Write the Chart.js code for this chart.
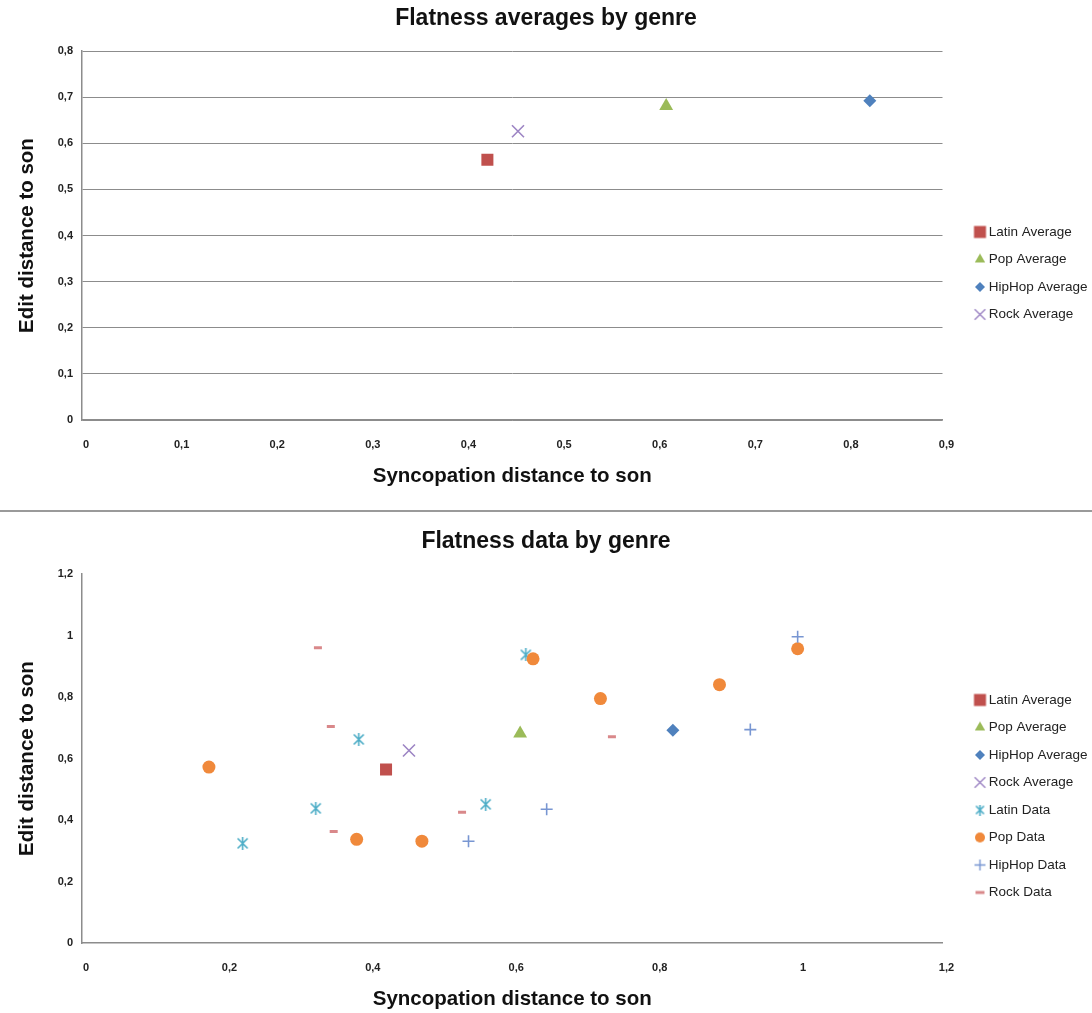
<!DOCTYPE html>
<html>
<head>
<meta charset="utf-8">
<script src="https://cdn.jsdelivr.net/npm/chart.js@4.4.1/dist/chart.umd.min.js"></script>
<style>
    html, body { margin: 0; padding: 0; background: #fff; }
    body { width: 1092px; height: 1013px; position: relative; overflow: hidden; }
    .chart-box { position: absolute; left: 0; width: 1092px; height: 489px; }
    #top-box { top: 0; }
    #bottom-box { top: 523px; }
    #divider { position: absolute; left: 0; top: 510px; width: 1092px; height: 2px; background: #9a9a9a; }
</style>
</head>
<body>
<div class="chart-box" id="top-box"><canvas id="avgChart"></canvas></div>
<div id="divider"></div>
<div class="chart-box" id="bottom-box"><canvas id="dataChart"></canvas></div>
<script>
// Genre averages (x = syncopation distance, y = edit distance)
const avgLabels = ["Latin Average", "Pop Average", "HipHop Average", "Rock Average"];
const avgX = [0.424, 0.611, 0.824, 0.456];
const avgY = [0.564, 0.681, 0.692, 0.626];

// Per-song data by genre
const latinX = [0.224, 0.326, 0.386, 0.563, 0.619];
const latinY = [0.324, 0.438, 0.662, 0.451, 0.937];
const popX = [0.177, 0.383, 0.474, 0.629, 0.723, 0.889, 0.998];
const popY = [0.572, 0.337, 0.331, 0.924, 0.795, 0.840, 0.957];
const hiphopX = [0.539, 0.648, 0.932, 0.998];
const hiphopY = [0.331, 0.435, 0.694, 0.996];
const rockX = [0.329, 0.347, 0.351, 0.530, 0.739];
const rockY = [0.960, 0.704, 0.363, 0.425, 0.671];

const FONT = '"Liberation Sans", Arial, sans-serif';

// Excel style asterisk marker (X with a vertical bar)
function makeAsterisk(color, size) {
    const c = document.createElement("canvas");
    c.width = size;
    c.height = size;
    const ctx = c.getContext("2d");
    ctx.strokeStyle = color;
    ctx.lineWidth = 1.6;
    const m = 1.5, s = size - 1.5;
    ctx.beginPath();
    ctx.moveTo(m, m); ctx.lineTo(s, s);
    ctx.moveTo(s, m); ctx.lineTo(m, s);
    ctx.moveTo(size / 2, 0); ctx.lineTo(size / 2, size);
    ctx.stroke();
    return c;
}

// small marker image for the legend, drawn with Chart.js' own point renderer
function makeMarker(style, radius, color, lineWidth) {
    const size = Math.ceil(radius * 2 + lineWidth + 2);
    const c = document.createElement("canvas");
    c.width = size;
    c.height = size;
    const ctx = c.getContext("2d");
    ctx.fillStyle = color;
    ctx.strokeStyle = color;
    ctx.lineWidth = lineWidth;
    Chart.helpers.drawPoint(ctx, { pointStyle: style, radius: radius, rotation: 0, borderWidth: lineWidth }, size / 2, size / 2);
    return c;
}

function zip(xs, ys) {
    return xs.map((x, i) => ({ x: x, y: ys[i] }));
}

function fmt(v) {
    return String(Number(v.toFixed(2))).replace(".", ",");
}

function avgDatasets() {
    return [
        { label: avgLabels[0], data: [{ x: avgX[0], y: avgY[0] }], pointStyle: "rect", pointRadius: 8.5,
          backgroundColor: "#C0504D", borderColor: "#C0504D", borderWidth: 0,
          legendMarker: makeMarker("rect", 8.5, "#C0504D", 0) },
        { label: avgLabels[1], data: [{ x: avgX[1], y: avgY[1] }], pointStyle: "triangle", pointRadius: 8,
          backgroundColor: "#9BBB59", borderColor: "#9BBB59", borderWidth: 0,
          legendMarker: makeMarker("triangle", 6, "#9BBB59", 0) },
        { label: avgLabels[2], data: [{ x: avgX[2], y: avgY[2] }], pointStyle: "rectRot", pointRadius: 6.5,
          backgroundColor: "#4F81BD", borderColor: "#4F81BD", borderWidth: 0,
          legendMarker: makeMarker("rectRot", 5, "#4F81BD", 0) },
        { label: avgLabels[3], data: [{ x: avgX[3], y: avgY[3] }], pointStyle: "crossRot", pointRadius: 8.5,
          backgroundColor: "#9D85C4", borderColor: "#9D85C4", borderWidth: 1.6,
          legendMarker: makeMarker("crossRot", 7.5, "#9D85C4", 1.4) }
    ];
}

function dataDatasets() {
    const star = makeAsterisk("#4BACC6", 13);
    return [
        { label: "Latin Data", data: zip(latinX, latinY), pointStyle: star,
          backgroundColor: "#4BACC6", borderColor: "#4BACC6", borderWidth: 1.6,
          legendMarker: makeAsterisk("#4BACC6", 11) },
        { label: "Pop Data", data: zip(popX, popY), pointStyle: "circle", pointRadius: 6.5,
          backgroundColor: "#F0893B", borderColor: "#F0893B", borderWidth: 0,
          legendMarker: makeMarker("circle", 5, "#F0893B", 0) },
        { label: "HipHop Data", data: zip(hiphopX, hiphopY), pointStyle: "cross", pointRadius: 6,
          backgroundColor: "#7896D2", borderColor: "#7896D2", borderWidth: 1.6,
          legendMarker: makeMarker("cross", 5.5, "#7896D2", 1.4) },
        { label: "Rock Data", data: zip(rockX, rockY), pointStyle: "line", pointRadius: 4,
          backgroundColor: "#D9888A", borderColor: "#D9888A", borderWidth: 3,
          legendMarker: makeMarker("line", 4.5, "#D9888A", 3) }
    ];
}

function legendLabels(chart) {
    const items = Chart.defaults.plugins.legend.labels.generateLabels(chart);
    items.forEach(item => {
        item.pointStyle = chart.data.datasets[item.datasetIndex].legendMarker;
        item.fontColor = "#222";
    });
    return items.sort((a, b) => a.datasetIndex - b.datasetIndex);
}

function buildChart(canvasId, titleText, datasets, xMax, yMax, step, yGrid) {
    // later series are drawn on top, like the original
    datasets.forEach((d, i) => { d.order = -i; d.pointHoverRadius = d.pointRadius; });

    return new Chart(document.getElementById(canvasId), {
        type: "scatter",
        data: { datasets: datasets },
        options: {
            responsive: true,
            maintainAspectRatio: false,
            animation: false,
            layout: { padding: 0 },
            plugins: {
                title: {
                    display: true, text: titleText, color: "#111",
                    font: { family: FONT, size: 23, weight: "bold" },
                    padding: { top: 5, bottom: 18.4 }
                },
                legend: {
                    position: "right",
                    maxWidth: 128,
                    title: { display: true, text: "", padding: { top: 56.3, bottom: 0 }, font: { size: 1 } },
                    labels: {
                        usePointStyle: true, pointStyleWidth: 4, boxHeight: 10, padding: 14, color: "#222",
                        font: { family: FONT, size: 13.5 },
                        generateLabels: legendLabels
                    }
                },
                tooltip: { enabled: false }
            },
            scales: {
                x: {
                    type: "linear", min: 0, max: xMax,
                    ticks: { stepSize: step, callback: fmt, color: "#222", labelOffset: 4, padding: 18,
                             font: { family: FONT, size: 11, weight: "bold" } },
                    grid: { display: false, drawTicks: false },
                    border: { color: "#8c8c8c", width: 1.5 },
                    title: { display: true, text: "Syncopation distance to son", color: "#111",
                             font: { family: FONT, size: 20.5, weight: "bold" }, padding: { top: 0, bottom: 0 } },
                    afterFit: (s) => { s.height = 69; }
                },
                y: {
                    type: "linear", min: 0, max: yMax,
                    ticks: { stepSize: step, callback: fmt, color: "#222", padding: 9,
                             font: { family: FONT, size: 11, weight: "bold" } },
                    grid: { display: yGrid, drawTicks: false, color: "#8c8c8c", lineWidth: 1 },
                    border: { color: "#8c8c8c", width: 1.5 },
                    title: { display: true, text: "Edit distance to son", color: "#111",
                             font: { family: FONT, size: 20.5, weight: "bold" }, padding: { top: 14.7, bottom: 0 } },
                    afterFit: (s) => { s.width = 82; }
                },
                pad: {
                    type: "linear", position: "right", min: 0, max: 1,
                    ticks: { display: false },
                    grid: { display: false, drawTicks: false },
                    border: { display: false },
                    afterFit: (s) => { s.width = 21.5; }
                }
            }
        }
    });
}

buildChart("avgChart", "Flatness averages by genre", avgDatasets(), 0.9, 0.8, 0.1, true);
buildChart("dataChart", "Flatness data by genre", avgDatasets().concat(dataDatasets()), 1.2, 1.2, 0.2, false);
</script>
</body>
</html>
